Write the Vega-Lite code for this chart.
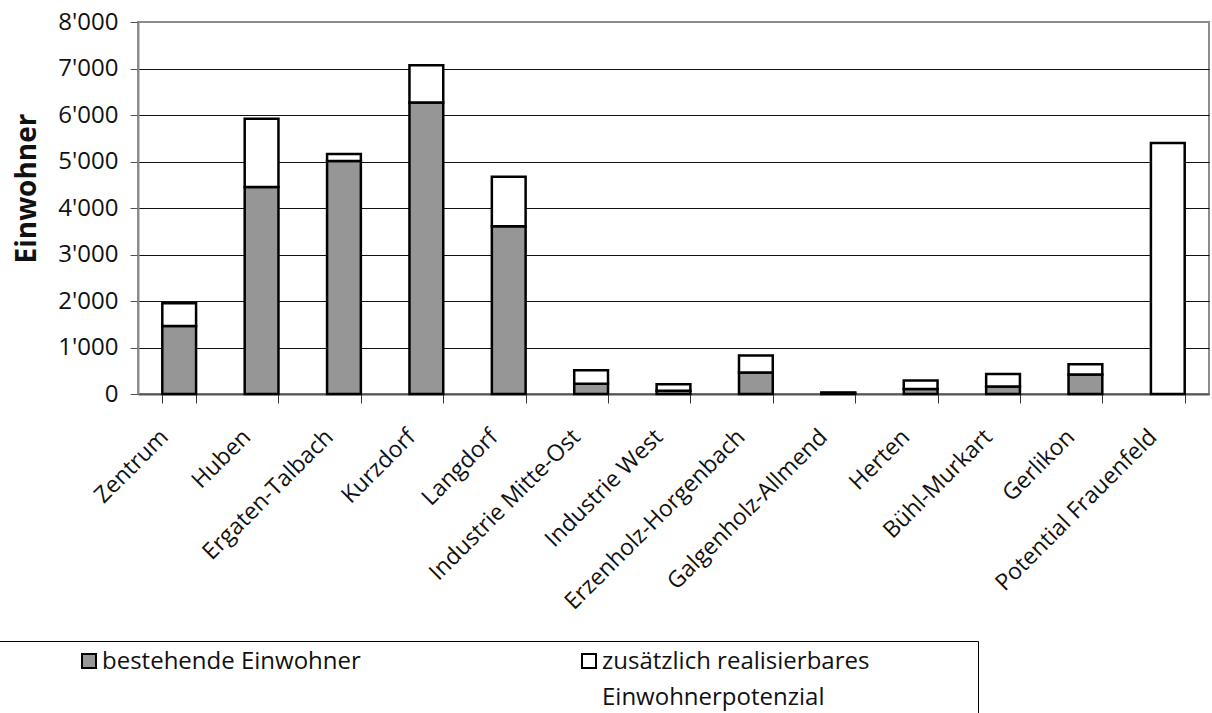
{
  "$schema": "https://vega.github.io/schema/vega-lite/v6.json",
  "width": 1071,
  "height": 372,
  "autosize": "none",
  "padding": {"left": 138, "top": 22, "right": 3, "bottom": 319},
  "background": "white",
  "config": {
    "locale": {"number": {"decimal": ".", "thousands": "'", "grouping": [3], "currency": ["", ""]}},
    "font": "Open Sans",
    "view": {"stroke": "#8c8c8c", "strokeWidth": 2}
  },
  "data": {
    "values": [
      {"Quartier": "Zentrum", "Typ": "bestehende Einwohner", "Einwohner": 1460},
      {"Quartier": "Zentrum", "Typ": "zusätzlich realisierbares Einwohnerpotenzial", "Einwohner": 490},
      {"Quartier": "Huben", "Typ": "bestehende Einwohner", "Einwohner": 4450},
      {"Quartier": "Huben", "Typ": "zusätzlich realisierbares Einwohnerpotenzial", "Einwohner": 1470},
      {"Quartier": "Ergaten-Talbach", "Typ": "bestehende Einwohner", "Einwohner": 5010},
      {"Quartier": "Ergaten-Talbach", "Typ": "zusätzlich realisierbares Einwohnerpotenzial", "Einwohner": 150},
      {"Quartier": "Kurzdorf", "Typ": "bestehende Einwohner", "Einwohner": 6270},
      {"Quartier": "Kurzdorf", "Typ": "zusätzlich realisierbares Einwohnerpotenzial", "Einwohner": 800},
      {"Quartier": "Langdorf", "Typ": "bestehende Einwohner", "Einwohner": 3610},
      {"Quartier": "Langdorf", "Typ": "zusätzlich realisierbares Einwohnerpotenzial", "Einwohner": 1060},
      {"Quartier": "Industrie Mitte-Ost", "Typ": "bestehende Einwohner", "Einwohner": 220},
      {"Quartier": "Industrie Mitte-Ost", "Typ": "zusätzlich realisierbares Einwohnerpotenzial", "Einwohner": 290},
      {"Quartier": "Industrie West", "Typ": "bestehende Einwohner", "Einwohner": 70},
      {"Quartier": "Industrie West", "Typ": "zusätzlich realisierbares Einwohnerpotenzial", "Einwohner": 140},
      {"Quartier": "Erzenholz-Horgenbach", "Typ": "bestehende Einwohner", "Einwohner": 460},
      {"Quartier": "Erzenholz-Horgenbach", "Typ": "zusätzlich realisierbares Einwohnerpotenzial", "Einwohner": 370},
      {"Quartier": "Galgenholz-Allmend", "Typ": "bestehende Einwohner", "Einwohner": 20},
      {"Quartier": "Galgenholz-Allmend", "Typ": "zusätzlich realisierbares Einwohnerpotenzial", "Einwohner": 10},
      {"Quartier": "Herten", "Typ": "bestehende Einwohner", "Einwohner": 110},
      {"Quartier": "Herten", "Typ": "zusätzlich realisierbares Einwohnerpotenzial", "Einwohner": 180},
      {"Quartier": "Bühl-Murkart", "Typ": "bestehende Einwohner", "Einwohner": 160},
      {"Quartier": "Bühl-Murkart", "Typ": "zusätzlich realisierbares Einwohnerpotenzial", "Einwohner": 270},
      {"Quartier": "Gerlikon", "Typ": "bestehende Einwohner", "Einwohner": 420},
      {"Quartier": "Gerlikon", "Typ": "zusätzlich realisierbares Einwohnerpotenzial", "Einwohner": 220},
      {"Quartier": "Potential Frauenfeld", "Typ": "zusätzlich realisierbares Einwohnerpotenzial", "Einwohner": 5400}
    ]
  },
  "mark": {"type": "bar", "stroke": "black", "strokeWidth": 2.5},
  "encoding": {
    "x": {
      "field": "Quartier",
      "type": "nominal",
      "sort": ["Zentrum", "Huben", "Ergaten-Talbach", "Kurzdorf", "Langdorf", "Industrie Mitte-Ost", "Industrie West", "Erzenholz-Horgenbach", "Galgenholz-Allmend", "Herten", "Bühl-Murkart", "Gerlikon", "Potential Frauenfeld"],
      "scale": {"paddingInner": 0.59, "paddingOuter": 0.295},
      "axis": {
        "title": null,
        "labelAngle": -45,
        "labelAlign": "right",
        "labelBaseline": "middle",
        "labelFontSize": 23,
        "labelColor": "#111",
        "labelLimit": 400,
        "labelPadding": 30,
        "labelOffset": -15,
        "tickBand": "extent",
        "tickSize": 9,
        "tickColor": "#333",
        "domainColor": "#555",
        "domainWidth": 2,
        "grid": false
      }
    },
    "y": {
      "field": "Einwohner",
      "type": "quantitative",
      "stack": "zero",
      "scale": {"domain": [0, 8000], "nice": false},
      "axis": {
        "title": "Einwohner",
        "titleFontSize": 28,
        "titleFontWeight": "bold",
        "titleColor": "#111",
        "titlePadding": 16,
        "titleY": 166,
        "values": [0, 1000, 2000, 3000, 4000, 5000, 6000, 7000, 8000],
        "format": ",.0f",
        "labelFontSize": 24,
        "labelColor": "#111",
        "labelPadding": 12,
        "tickSize": 8,
        "tickColor": "#555",
        "domainColor": "#8c8c8c",
        "domainWidth": 2,
        "gridColor": {"condition": {"test": "datum.value == 8000", "value": "#8c8c8c"}, "value": "#111"},
        "gridWidth": 1
      }
    },
    "order": {"field": "Typ", "sort": "ascending"},
    "color": {
      "field": "Typ",
      "type": "nominal",
      "sort": ["bestehende Einwohner", "zusätzlich realisierbares Einwohnerpotenzial"],
      "scale": {"domain": ["bestehende Einwohner", "zusätzlich realisierbares Einwohnerpotenzial"], "range": ["#969696", "#ffffff"]},
      "legend": {
        "title": null,
        "orient": "none",
        "legendX": -139,
        "legendY": 619,
        "direction": "horizontal",
        "columns": 2,
        "strokeColor": "black",
        "padding": 8,
        "symbolType": "square",
        "symbolSize": 196,
        "symbolStrokeColor": "black",
        "symbolStrokeWidth": 2,
        "symbolOffset": 70,
        "labelOffset": 1,
        "labelFontSize": 24,
        "labelColor": "#111",
        "labelBaseline": "alphabetic",
        "labelLimit": 700,
        "columnPadding": 146,
        "labelExpr": "indexof(datum.label, 'zusätzlich') == 0 ? ['zusätzlich realisierbares\u00a0\u00a0\u00a0\u00a0\u00a0\u00a0\u00a0\u00a0\u00a0\u00a0\u00a0\u00a0\u00a0\u00a0\u00a0\u00a0\u200b', 'Einwohnerpotenzial'] : [datum.label, '\u00a0\u200b']",
        "encode": {
          "labels": {"update": {"dy": {"value": 8}, "lineHeight": {"value": 36}}}
        }
      }
    }
  }
}
